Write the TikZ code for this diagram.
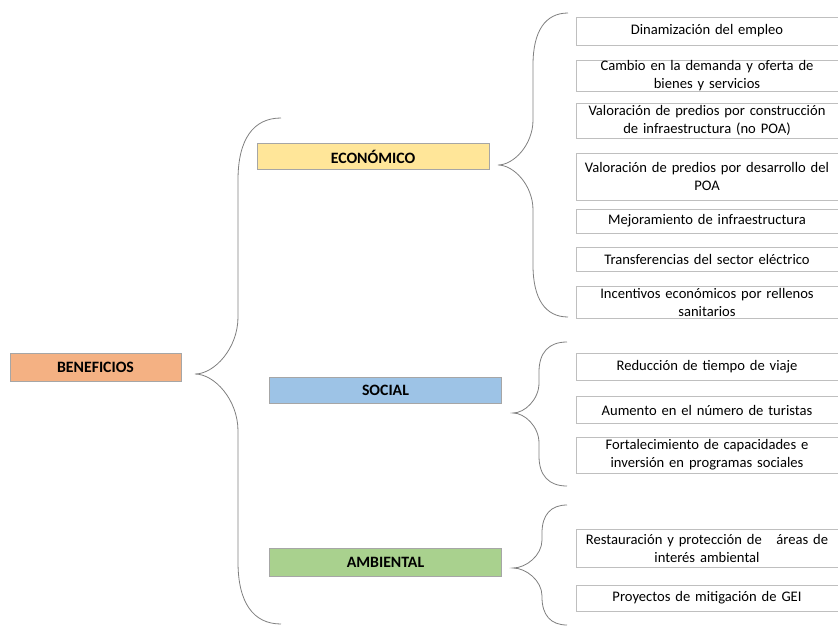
\documentclass[tikz,border=0pt]{standalone}
\usepackage{fontspec}
\setmainfont{Carlito}
\definecolor{cOrange}{HTML}{F4B183}
\definecolor{cYellow}{HTML}{FFE699}
\definecolor{cBlue}{HTML}{9DC3E6}
\definecolor{cGreen}{HTML}{A9D18E}
\definecolor{cBorder}{HTML}{BFBFBF}
\definecolor{cCatBorder}{HTML}{A6A6A6}
\definecolor{cBrace}{HTML}{7F7F7F}
\newcommand\mybrace[8]{%
 \draw[brace] (#1,#2) .. controls ({#3+0.35*(#1-#3)},#2) and (#3,{#2+0.35*#7}) .. (#3,{#2+#7})
   -- (#3,{#5-#8}) .. controls (#3,{#5-0.45*#8}) and ({#4+0.45*(#3-#4)},#5) .. (#4,#5)
   .. controls ({#4+0.45*(#3-#4)},#5) and (#3,{#5+0.45*#8}) .. (#3,{#5+#8})
   -- (#3,{#6-#7}) .. controls (#3,{#6-0.35*#7}) and ({#3+0.35*(#1-#3)},#6) .. (#1,#6);}
\begin{document}
\begin{tikzpicture}[x=1pt,y=-1pt,
  item/.style={draw=cBorder, fill=white, line width=0.7pt, minimum width=262pt, text width=258pt,
    align=center, inner sep=0pt, font=\fontsize{14.6}{18}\selectfont},
  cat/.style={draw=cCatBorder, line width=0.7pt, minimum width=232pt, minimum height=26pt,
    inner sep=0pt, font=\bfseries\fontsize{15.8}{16}\selectfont},
  brace/.style={draw=cBrace, line width=0.8pt}]
\useasboundingbox (0,0) rectangle (838,626);

% level 0
\node[cat, fill=cOrange, minimum width=171pt, minimum height=28pt] (ben) at (95.5,367) {BENEFICIOS};

% level 1
\node[cat, fill=cYellow] (eco) at (373,156.5) {ECONÓMICO};
\node[cat, fill=cBlue] (soc) at (385.5,390.5) {SOCIAL};
\node[cat, fill=cGreen, minimum height=28pt] (amb) at (385.5,562) {AMBIENTAL};

% economic items
\node[item, minimum height=28pt] (e1) at (707,31) {Dinamización del empleo};
\node[item, minimum height=31pt] (e2) at (707,75.5) {Cambio en la demanda y oferta de\\bienes y servicios};
\node[item, minimum height=35pt] (e3) at (707,120.5) {Valoración de predios por construcción\\de infraestructura (no POA)};
\node[item, minimum height=47pt] (e4) at (707,176.5) {Valoración de predios por desarrollo del\\POA};
\node[item, minimum height=24pt] (e5) at (707,221) {Mejoramiento de infraestructura};
\node[item, minimum height=24pt] (e6) at (707,259) {Transferencias del sector eléctrico};
\node[item, minimum height=32pt] (e7) at (707,302) {Incentivos económicos por rellenos\\sanitarios};

% social items
\node[item, minimum height=27pt] (s1) at (707,366.5) {Reducción de tiempo de viaje};
\node[item, minimum height=27pt] (s2) at (707,410) {Aumento en el número de turistas};
\node[item, minimum height=36pt] (s3) at (707,455) {Fortalecimiento de capacidades e\\inversión en programas sociales};

% environmental items
\node[item, minimum height=38pt] (a1) at (707,548) {Restauración y protección de\ \ \ áreas de\\interés ambiental};
\node[item, minimum height=26pt] (a2) at (707,598) {Proyectos de mitigación de GEI};

% braces
\mybrace{281}{118}{238}{195}{374}{624}{62}{57}
\mybrace{568}{13}{533}{498}{165}{317}{52}{45}
\mybrace{567}{342}{539}{513}{413}{486}{30}{30}
\mybrace{567}{505}{542}{513}{568}{625}{28}{28}
\end{tikzpicture}
\end{document}
